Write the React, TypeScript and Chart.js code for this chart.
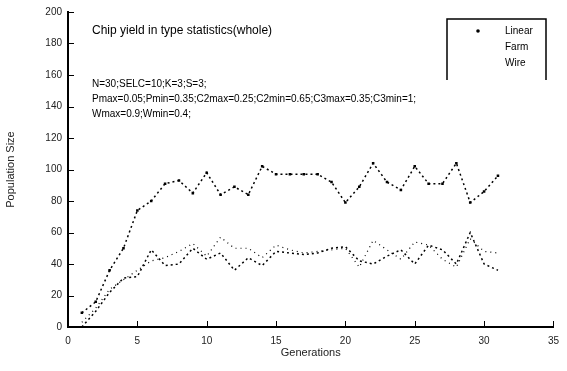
import React, { useEffect, useRef } from 'react';
import { Chart, registerables } from 'chart.js';

Chart.register(...registerables);

const generations = [1, 2, 3, 4, 5, 6, 7, 8, 9, 10, 11, 12, 13, 14, 15, 16, 17, 18, 19, 20, 21, 22, 23, 24, 25, 26, 27, 28, 29, 30, 31];
const linearValues = [9, 16, 36, 50, 74, 80, 91, 93, 85, 98, 84, 89, 84, 102, 97, 97, 97, 97, 92, 79, 89, 104, 92, 87, 102, 91, 91, 104, 79, 86, 96];
const farmValues = [0, 10, 22, 31, 32, 49, 39, 40, 50, 43, 47, 36, 44, 39, 48, 47, 46, 47, 50, 51, 42, 40, 45, 49, 40, 52, 49, 40, 60, 40, 36];
const wireValues = [3, 12, 24, 30, 36, 42, 44, 48, 53, 45, 57, 50, 50, 44, 52, 49, 47, 48, 49, 50, 38, 55, 49, 43, 54, 52, 43, 38, 56, 48, 47];
const seriesLabels = ['Linear', 'Farm', 'Wire'];
const xTickValues = [0, 5, 10, 15, 20, 25, 30, 35];
const yTickValues = [0, 20, 40, 60, 80, 100, 120, 140, 160, 180, 200];
const chartTitle = 'Chip yield in type statistics(whole)';
const paramLines = [
  'N=30;SELC=10;K=3;S=3;',
  'Pmax=0.05;Pmin=0.35;C2max=0.25;C2min=0.65;C3max=0.35;C3min=1;',
  'Wmax=0.9;Wmin=0.4;',
];
const xTitle = 'Generations';
const yTitle = 'Population Size';

const FONT = '"Liberation Sans", Arial, sans-serif';

const decorPlugin = {
  id: 'decor',
  afterDraw(chart: any) {
    const ctx = chart.ctx;
    const xs = chart.scales.x;
    const ys = chart.scales.y;
    const area = chart.chartArea;
    ctx.save();
    ctx.strokeStyle = '#000';
    ctx.lineWidth = 1;
    xTickValues.forEach((v) => {
      const px = Math.round(xs.getPixelForValue(v)) + 0.5;
      ctx.beginPath();
      ctx.moveTo(px, area.bottom);
      ctx.lineTo(px, area.bottom - 6);
      ctx.stroke();
    });
    yTickValues.forEach((v) => {
      const py = Math.round(ys.getPixelForValue(v)) + 0.5;
      ctx.beginPath();
      ctx.moveTo(area.left, py);
      ctx.lineTo(area.left + 6, py);
      ctx.stroke();
    });
    ctx.lineWidth = 1.5;
    ctx.beginPath();
    ctx.moveTo(447, 80);
    ctx.lineTo(447, 19);
    ctx.lineTo(546, 19);
    ctx.lineTo(546, 80);
    ctx.stroke();
    ctx.fillStyle = '#000';
    ctx.beginPath();
    ctx.arc(478, 31, 1.8, 0, Math.PI * 2);
    ctx.fill();
    ctx.font = '10px ' + FONT;
    ctx.textBaseline = 'middle';
    ctx.textAlign = 'left';
    seriesLabels.forEach((l, i) => {
      ctx.fillText(l, 505, 31 + i * 16);
    });
    ctx.font = '12px ' + FONT;
    ctx.fillText(chartTitle, 92, 31);
    ctx.font = '10px ' + FONT;
    paramLines.forEach((l, i) => {
      ctx.fillText(l, 92, 84 + i * 15);
    });
    ctx.restore();
  },
};

export default function App() {
  const ref = useRef<HTMLCanvasElement | null>(null);
  useEffect(() => {
    if (!ref.current) return;
    const mk = (vals: number[]) => generations.map((g, i) => ({ x: g, y: vals[i] }));
    const chart = new Chart(ref.current, {
      type: 'line',
      data: {
        datasets: [
          {
            label: seriesLabels[0],
            data: mk(linearValues),
            borderColor: '#000',
            backgroundColor: '#000',
            borderWidth: 1.5,
            borderDash: [2, 3],
            pointStyle: 'rect',
            pointRadius: 1.8,
            pointBorderWidth: 0,
            tension: 0,
          },
          {
            label: seriesLabels[1],
            data: mk(farmValues),
            borderColor: '#000',
            borderWidth: 1.5,
            borderDash: [2, 3],
            pointRadius: 0,
            tension: 0,
          },
          {
            label: seriesLabels[2],
            data: mk(wireValues),
            borderColor: '#000',
            borderWidth: 1.2,
            borderDash: [1, 4],
            pointRadius: 0,
            tension: 0,
          },
        ],
      },
      options: {
        responsive: false,
        animation: false,
        layout: { padding: { top: 12, right: 10, left: 0, bottom: 7 } },
        plugins: { legend: { display: false }, tooltip: { enabled: false } },
        scales: {
          x: {
            type: 'linear',
            min: 0,
            max: 35,
            afterBuildTicks: (s: any) => {
              s.ticks = xTickValues.map((v) => ({ value: v }));
            },
            afterFit: (s: any) => {
              s.height = 37;
            },
            grid: { display: false, drawTicks: false },
            border: { display: true, color: '#000', width: 2 },
            ticks: { color: '#222', font: { size: 10, family: FONT }, padding: 8 },
            title: { display: true, text: xTitle, color: '#222', font: { size: 11, family: FONT }, padding: { top: 0 } },
          },
          y: {
            type: 'linear',
            min: 0,
            max: 200,
            afterBuildTicks: (s: any) => {
              s.ticks = yTickValues.map((v) => ({ value: v }));
            },
            afterFit: (s: any) => {
              s.width = 68;
            },
            grid: { display: false, drawTicks: false },
            border: { display: true, color: '#000', width: 2 },
            ticks: { color: '#222', font: { size: 10, family: FONT }, padding: 6 },
            title: { display: true, text: yTitle, color: '#222', font: { size: 11, family: FONT }, padding: { bottom: 4 } },
          },
        },
      },
      plugins: [decorPlugin],
    } as any);
    return () => chart.destroy();
  }, []);
  return (
    <div style={{ position: 'fixed', left: 0, top: 0, width: 567, height: 371, background: '#fff' }}>
      <canvas ref={ref} width={567} height={371} />
    </div>
  );
}
